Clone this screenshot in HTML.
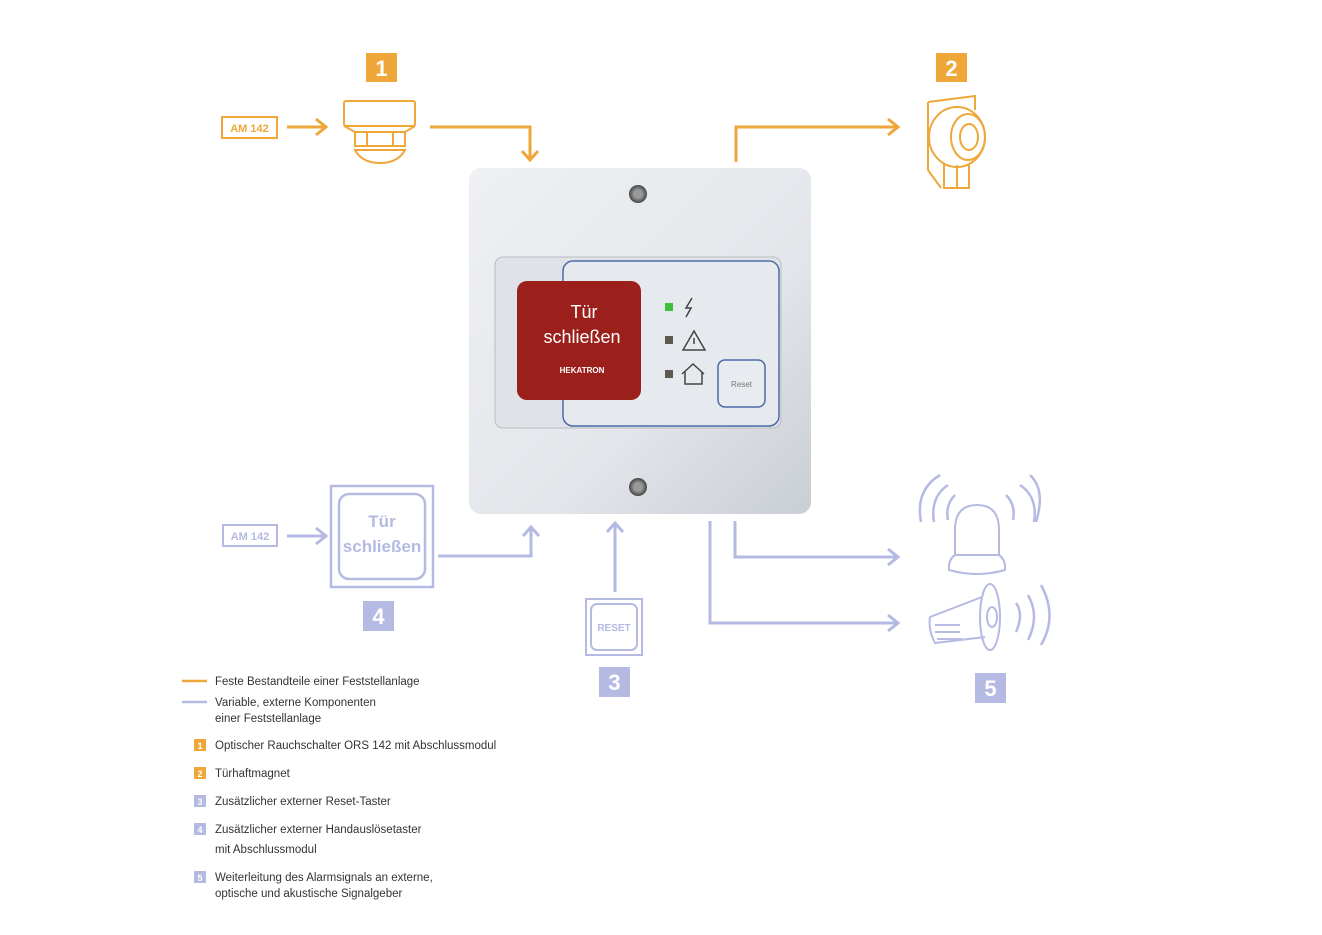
<!DOCTYPE html>
<html><head><meta charset="utf-8"><style>
html,body{margin:0;padding:0;background:#fff}
svg{display:block}
text{font-family:"Liberation Sans",sans-serif}
</style></head><body>
<svg width="1322" height="935" viewBox="0 0 1322 935" xmlns="http://www.w3.org/2000/svg">
<defs>
<linearGradient id="dev" x1="0" y1="0" x2="1" y2="1">
<stop offset="0" stop-color="#eef0f3"/><stop offset="0.6" stop-color="#e3e6ea"/><stop offset="1" stop-color="#c9ced5"/>
</linearGradient>
<radialGradient id="scr"><stop offset="0" stop-color="#ddd"/><stop offset="1" stop-color="#444"/></radialGradient>
</defs>
<g fill="none" stroke="#efa73a" stroke-width="3">
<rect x="222" y="117" width="55" height="21" stroke-width="2"/>
<path d="M287 127H325M316 119L326 127L316 135"/>
<rect x="344" y="101" width="71" height="25" rx="2" stroke-width="2"/>
<path d="M344 126L355 132H405L415 126" stroke-width="2"/>
<rect x="355" y="132" width="50" height="14" stroke-width="2"/>
<path d="M367 132V146M393 132V146" stroke-width="2"/>
<path d="M355 150H405Q398 163 380 163Q362 163 355 150Z" stroke-width="2"/>
<path d="M430 127H530V160M522 151L530 160L538 151"/>
<path d="M736 162V127H897M888 119L898 127L888 135"/>
<g stroke-width="2">
<path d="M928 102L975 96V110M928 102V170L941 188"/>
<ellipse cx="957" cy="137" rx="28" ry="30"/>
<ellipse cx="968" cy="137" rx="17" ry="23"/>
<ellipse cx="969" cy="137" rx="9" ry="13"/>
<path d="M944 163V188H969V165M957 165V188"/>
</g>
</g>
<rect x="366" y="53" width="31" height="29" fill="#efa73a"/>
<text x="381.5" y="76" font-size="22" font-weight="bold" fill="#fff" text-anchor="middle">1</text>
<rect x="936" y="53" width="31" height="29" fill="#efa73a"/>
<text x="951.5" y="76" font-size="22" font-weight="bold" fill="#fff" text-anchor="middle">2</text>
<text x="249.5" y="132" font-size="11" font-weight="bold" fill="#efa73a" text-anchor="middle">AM 142</text>

<g fill="none" stroke="#b5bae2" stroke-width="3">
<rect x="223" y="525" width="54" height="21" stroke-width="2"/>
<path d="M287 536H325M316 528L326 536L316 544"/>
<rect x="331" y="486" width="102" height="101" stroke-width="2.5"/>
<rect x="339" y="494" width="86" height="85" rx="10" stroke-width="2.5"/>
<path d="M438 556H531V528M523 536L531 527L539 536"/>
<path d="M615 592V524M607 532L615 523L623 532"/>
<rect x="586" y="599" width="56" height="56" stroke-width="2"/>
<rect x="591" y="604" width="46" height="46" rx="6" stroke-width="2"/>
<path d="M735 521V557H897M888 549L898 557L888 565"/>
<path d="M710 521V623H897M888 615L898 623L888 631"/>
<g stroke-width="2">
<path d="M955 555V530Q955 505 977 505Q999 505 999 530V555"/>
<path d="M955 555Q948 560 949 570Q977 578 1005 570Q1006 560 999 555Z"/>
</g>
<path d="M948 520Q945 505 955 495M1006 495Q1016 505 1013 520" stroke-width="2.5"/>
<path d="M934 522Q930 497 948 485M1020 485Q1038 497 1034 522" stroke-width="2.5"/>
<path d="M921 522Q915 490 940 475M1030 475Q1046 490 1036 522" stroke-width="2.5"/>
<g stroke-width="2">
<path d="M930 617Q928 630 935 643L985 637M930 617L982 597"/>
<ellipse cx="990" cy="617" rx="10" ry="33"/>
<ellipse cx="992" cy="617" rx="5" ry="10"/>
<path d="M935 625H960M935 632H960M937 639H962"/>
</g>
<path d="M1016 603Q1024 614 1016 632M1028 595Q1040 616 1028 640M1041 585Q1058 616 1041 645" stroke-width="2.5"/>
</g>
<text x="382" y="527" font-size="17" font-weight="bold" fill="#b5bae2" text-anchor="middle">Tür</text>
<text x="382" y="552" font-size="17" font-weight="bold" fill="#b5bae2" text-anchor="middle">schließen</text>
<text x="250" y="540" font-size="11" font-weight="bold" fill="#b5bae2" text-anchor="middle">AM 142</text>
<text x="614" y="631" font-size="10" font-weight="bold" fill="#b5bae2" text-anchor="middle">RESET</text>
<rect x="363" y="601" width="31" height="30" fill="#b5bae2"/>
<text x="378.5" y="624" font-size="22" font-weight="bold" fill="#fff" text-anchor="middle">4</text>
<rect x="599" y="667" width="31" height="30" fill="#b5bae2"/>
<text x="614.5" y="690" font-size="22" font-weight="bold" fill="#fff" text-anchor="middle">3</text>
<rect x="975" y="673" width="31" height="30" fill="#b5bae2"/>
<text x="990.5" y="696" font-size="22" font-weight="bold" fill="#fff" text-anchor="middle">5</text>

<rect x="469" y="168" width="342" height="346" rx="12" fill="url(#dev)"/>
<rect x="495" y="257" width="286" height="171" rx="8" fill="#dfe2e6" stroke="#b9bdc3"/>
<rect x="563" y="261" width="216" height="165" rx="10" fill="#e6e9ee" stroke="#4f6aa8" stroke-width="1.5"/>
<rect x="517" y="281" width="124" height="119" rx="10" fill="#9b1f1a"/>
<text x="584" y="318" font-size="18" fill="#fff" text-anchor="middle">Tür</text>
<text x="582" y="343" font-size="18" fill="#fff" text-anchor="middle">schließen</text>
<text x="582" y="373" font-size="8" font-weight="bold" fill="#fff" text-anchor="middle">HEKATRON</text>
<rect x="665" y="303" width="8" height="8" fill="#3fbf3f"/>
<rect x="665" y="336" width="8" height="8" fill="#5f5a50"/>
<rect x="665" y="370" width="8" height="8" fill="#5f5a50"/>
<path d="M692 298L686 308H691L686 317" fill="none" stroke="#444" stroke-width="1.5"/>
<path d="M694 331L705 350H683Z" fill="none" stroke="#444" stroke-width="1.5"/>
<path d="M694 338V344" stroke="#444" stroke-width="1.5"/>
<path d="M682 374L693 364L704 374M685 372V384H702V372" fill="none" stroke="#444" stroke-width="1.5"/>
<rect x="718" y="360" width="47" height="47" rx="7" fill="#e8ebef" stroke="#4f6aa8" stroke-width="1.5"/>
<text x="741.5" y="387" font-size="8" fill="#777" text-anchor="middle">Reset</text>
<circle cx="638" cy="194" r="9" fill="url(#scr)"/><circle cx="638" cy="194" r="4" fill="#999"/>
<circle cx="638" cy="487" r="9" fill="url(#scr)"/><circle cx="638" cy="487" r="4" fill="#999"/>

<g font-size="11.5" fill="#333">
<line x1="182" y1="681" x2="207" y2="681" stroke="#efa73a" stroke-width="2.5"/>
<text x="215" y="685">Feste Bestandteile einer Feststellanlage</text>
<line x1="182" y1="702" x2="207" y2="702" stroke="#b5bae2" stroke-width="2.5"/>
<text x="215" y="706">Variable, externe Komponenten</text>
<text x="215" y="722">einer Feststellanlage</text>
<rect x="194" y="739" width="12" height="12" fill="#efa73a"/>
<text x="215" y="749">Optischer Rauchschalter ORS 142 mit Abschlussmodul</text>
<rect x="194" y="767" width="12" height="12" fill="#efa73a"/>
<text x="215" y="777">Türhaftmagnet</text>
<rect x="194" y="795" width="12" height="12" fill="#b5bae2"/>
<text x="215" y="805">Zusätzlicher externer Reset-Taster</text>
<rect x="194" y="823" width="12" height="12" fill="#b5bae2"/>
<text x="215" y="833">Zusätzlicher externer Handauslösetaster</text>
<text x="215" y="853">mit Abschlussmodul</text>
<rect x="194" y="871" width="12" height="12" fill="#b5bae2"/>
<text x="215" y="881">Weiterleitung des Alarmsignals an externe,</text>
<text x="215" y="897">optische und akustische Signalgeber</text>
</g>
<g font-size="9" font-weight="bold" fill="#fff" text-anchor="middle">
<text x="200" y="749">1</text><text x="200" y="777">2</text><text x="200" y="805">3</text><text x="200" y="833">4</text><text x="200" y="881">5</text>
</g>
</svg>
</body></html>
